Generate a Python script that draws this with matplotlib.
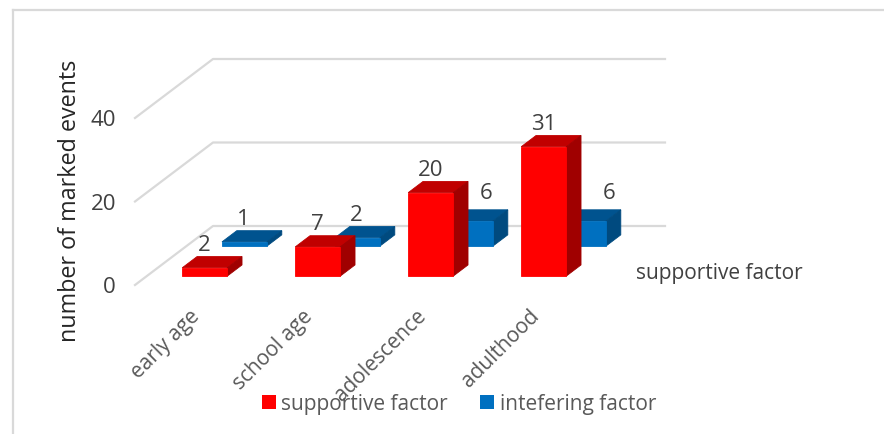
import matplotlib.pyplot as plt
from matplotlib.patches import Polygon

plt.rcParams['font.family'] = ['Open Sans', 'DejaVu Sans']

categories = ['early age', 'school age', 'adolescence', 'adulthood']
supportive = [2, 7, 20, 31]
interfering = [1, 2, 6, 6]
grid_values = [0, 20, 40]

W, H = 884, 434
X0, Y0 = 135, 285          # front left corner of the floor, in pixels
PX_CAT = 113.0             # pixels per category
PX_VAL = 4.175             # pixels per unit of value
DEPTH_X = 78 / PX_CAT      # floor depth, in data units
DEPTH_Y = 59 / PX_VAL
BAR_W = 45 / PX_CAT
BAR_SHIFT = 1.5 / PX_CAT

fig = plt.figure(figsize=(W / 100, H / 100), dpi=100)
ax = fig.add_axes([0, 0, 1, 1])
ax.set_xlim(-X0 / PX_CAT, (W - X0) / PX_CAT)
ax.set_ylim((Y0 - H) / PX_VAL, Y0 / PX_VAL)
ax.axis('off')


def on_floor(x, y, d):
    # shift a point from the front plane towards the back wall
    return x + d * DEPTH_X, y + d * DEPTH_Y


def bar3d(i, value, d0, d1, front, top, side):
    l = i + 0.5 + BAR_SHIFT - BAR_W / 2
    r = i + 0.5 + BAR_SHIFT + BAR_W / 2
    fl = on_floor(l, 0, d0)
    fr = on_floor(r, 0, d0)
    tl = on_floor(l, value, d0)
    tr = on_floor(r, value, d0)
    bl = on_floor(l, value, d1)
    br = on_floor(r, value, d1)
    br0 = on_floor(r, 0, d1)
    ax.add_patch(Polygon([tl, tr, br, bl], fc=top, ec=top, lw=0.6, zorder=3))
    ax.add_patch(Polygon([fr, tr, br, br0], fc=side, ec=side, lw=0.6, zorder=3))
    ax.add_patch(Polygon([fl, fr, tr, tl], fc=front, ec=front, lw=0.6, zorder=3))
    return (l + r) / 2 + d0 * DEPTH_X, value + d0 * DEPTH_Y


# gridlines: diagonal along the side wall, then straight along the back
for v in grid_values:
    ax.plot([0, DEPTH_X, 4 + DEPTH_X], [v, v + DEPTH_Y, v + DEPTH_Y],
            color='#d9d9d9', lw=1.6, zorder=1)

for i, v in enumerate(grid_values):
    ax.text(-19 / PX_CAT, v - 0.6, str(v), ha='right', va='center',
            fontsize=16, color='#404040')

# back row first so the red bars sit in front of it
label_dy = 22.5 / PX_VAL
blue_nudge = [(-1, 0), (-1, 0), (16, 5), (26, 5)]
for i, v in enumerate(interfering):
    cx, cy = bar3d(i, v, 0.66, 0.85, '#0070c0', '#00538f', '#004a7f')
    nx, ny = blue_nudge[i]
    ax.text(cx + nx / PX_CAT, cy + label_dy + ny / PX_VAL, str(v), ha='center',
            va='center', fontsize=16, color='#404040', zorder=5)

for i, v in enumerate(supportive):
    cx, cy = bar3d(i, v, 0.15, 0.34, '#ff0000', '#c00000', '#a00000')
    ax.text(cx, cy + label_dy, str(v), ha='center', va='center',
            fontsize=16, color='#404040', zorder=5)

# category labels hang off the front edge of the floor
for i, c in enumerate(categories):
    ax.text(i + 0.48, -5.0, c, rotation=45, ha='right', va='top',
            rotation_mode='anchor', fontsize=15, color='#595959', zorder=6)

ax.text((636 - X0) / PX_CAT, (Y0 - 274) / PX_VAL, 'supportive factor',
        ha='left', va='center', fontsize=15, color='#404040')

ax.text((70 - X0) / PX_CAT, (Y0 - 201) / PX_VAL, 'number of marked events',
        rotation=90, ha='center', va='center', fontsize=16.8, color='#262626')

# legend, laid out by hand along the bottom
ly = (Y0 - 402) / PX_VAL
for sx, tx, col, name in [(262, 281, '#ff0000', 'supportive factor'),
                          (480, 500, '#0070c0', 'intefering factor')]:
    ax.plot((sx + 7 - X0) / PX_CAT, ly, 's', ms=10, color=col, mew=0)
    ax.text((tx - X0) / PX_CAT, ly - 0.5, name, ha='left', va='center',
            fontsize=15, color='#595959', zorder=7)

# chart frame, only top and left edges show
ax.plot([(13 - X0) / PX_CAT, (W - X0) / PX_CAT], [(Y0 - 10) / PX_VAL] * 2,
        color='#d9d9d9', lw=1.6)
ax.plot([(13 - X0) / PX_CAT] * 2, [(Y0 - 10) / PX_VAL, (Y0 - H) / PX_VAL],
        color='#d9d9d9', lw=1.6)

fig.savefig('out.png', dpi=100)
